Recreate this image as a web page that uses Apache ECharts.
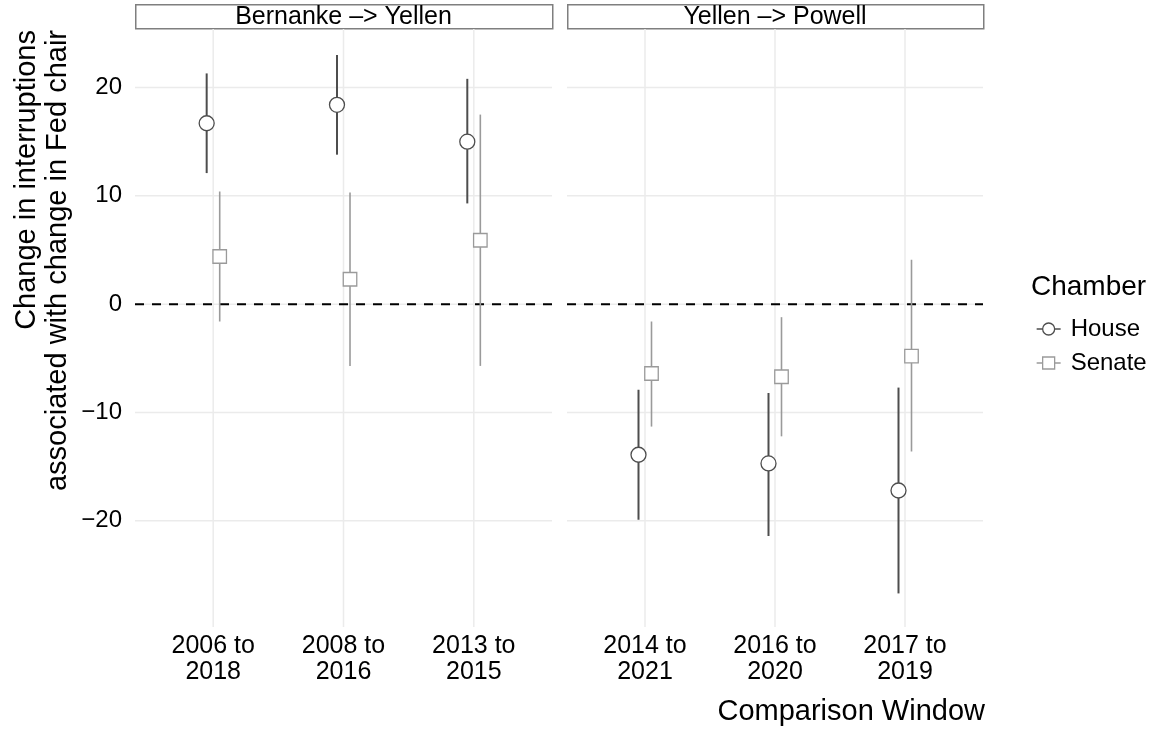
<!DOCTYPE html>
<html><head><meta charset="utf-8">
<script src="https://cdn.jsdelivr.net/npm/echarts@6/dist/echarts.min.js"></script>
<style>html,body{margin:0;padding:0;background:#fff}#c{width:1157px;height:730px}</style>
</head><body><div id="c"></div>
<script>
// ---- data ----
const facets = ['Bernanke –> Yellen', 'Yellen –> Powell'];
const windowsBY = ['2006 to\n2018', '2008 to\n2016', '2013 to\n2015'];
const windowsYP = ['2014 to\n2021', '2016 to\n2020', '2017 to\n2019'];
const yTicks = [-20, -10, 0, 10, 20];
const chambers = ['House', 'Senate'];

const houseEstBY = [16.7, 18.4, 15.0];
const houseLoBY  = [12.1, 13.8, 9.3];
const houseHiBY  = [21.3, 23.0, 20.8];
const senateEstBY = [4.4, 2.3, 5.9];
const senateLoBY  = [-1.6, -5.7, -5.7];
const senateHiBY  = [10.4, 10.3, 17.5];

const houseEstYP = [-13.9, -14.7, -17.2];
const houseLoYP  = [-19.9, -21.4, -26.7];
const houseHiYP  = [-7.9, -8.2, -7.7];
const senateEstYP = [-6.4, -6.7, -4.8];
const senateLoYP  = [-11.3, -12.2, -13.6];
const senateHiYP  = [-1.6, -1.2, 4.1];

// ---- styling ----
const FONT = '"Liberation Sans", Arial, sans-serif';
const HOUSE_COL = '#4d4d4d';
const SENATE_COL = '#9a9a9a';
const GRID_COL = '#ebebeb';
const DODGE = 0.05;
const panels = [
  {cats: windowsBY, house: [houseEstBY, houseLoBY, houseHiBY], senate: [senateEstBY, senateLoBY, senateHiBY]},
  {cats: windowsYP, house: [houseEstYP, houseLoYP, houseHiYP], senate: [senateEstYP, senateLoYP, senateHiYP]}
];
const gridBoxes = [{left: 135, top: 29, width: 417, height: 598}, {left: 567, top: 29, width: 416, height: 598}];

function fmtY(v) { return v < 0 ? '\u2212' + Math.abs(v) : String(v); }

const grids = gridBoxes.map(g => ({left: g.left, top: g.top, width: g.width, height: g.height, containLabel: false}));
const xAxes = panels.map((p, i) => ({
  type: 'value', gridIndex: i, min: 0.4, max: 3.6,
  axisLine: {show: false}, axisTick: {show: false}, splitLine: {show: false},
  axisLabel: {
    customValues: [1, 2, 3],
    formatter: v => (Math.abs(v - Math.round(v)) < 1e-6 && p.cats[Math.round(v) - 1]) ? p.cats[Math.round(v) - 1] : '',
    fontFamily: FONT, fontSize: 25, lineHeight: 26, color: '#000', margin: 6, align: 'center'
  }
}));
const yAxes = panels.map((p, i) => ({
  type: 'value', gridIndex: i, min: -29.8, max: 25.4,
  axisLine: {show: false}, axisTick: {show: false}, splitLine: {show: false},
  axisLabel: {
    show: i === 0, customValues: yTicks,
    formatter: v => yTicks.indexOf(v) >= 0 ? fmtY(v) : '',
    fontFamily: FONT, fontSize: 24, color: '#000', margin: 13, padding: [0, 0, 8, 0]
  }
}));

function hLine(color, width, dash) {
  return function (params, api) {
    const cs = params.coordSys;
    const y = api.coord([1, api.value(0)])[1];
    return {type: 'line', silent: true,
      shape: {x1: cs.x, y1: y, x2: cs.x + cs.width, y2: y},
      style: {stroke: color, lineWidth: width, lineDash: dash || null}};
  };
}
function vLine(params, api) {
  const cs = params.coordSys;
  const x = api.coord([api.value(0), 0])[0];
  return {type: 'line', silent: true,
    shape: {x1: x, y1: cs.y, x2: x, y2: cs.y + cs.height},
    style: {stroke: GRID_COL, lineWidth: 1.5}};
}
function errBar(color, width) {
  return function (params, api) {
    const p1 = api.coord([api.value(0), api.value(1)]);
    const p2 = api.coord([api.value(0), api.value(2)]);
    return {type: 'line', shape: {x1: p1[0], y1: p1[1], x2: p2[0], y2: p2[1]},
      style: {stroke: color, lineWidth: width}};
  };
}

const series = [];
panels.forEach((p, i) => {
  series.push({type: 'custom', xAxisIndex: i, yAxisIndex: i, z: 0, silent: true,
    data: yTicks.map(v => [v]), encode: {y: 0}, renderItem: hLine(GRID_COL, 1.5)});
  series.push({type: 'custom', xAxisIndex: i, yAxisIndex: i, z: 0, silent: true,
    data: p.cats.map((c, k) => [k + 1]), encode: {x: 0}, renderItem: vLine});
  series.push({type: 'custom', xAxisIndex: i, yAxisIndex: i, z: 1, silent: true,
    data: [[0]], encode: {y: 0}, renderItem: hLine('#000', 2, [9, 8])});
  [['House', p.house, -DODGE, HOUSE_COL, 2, 'circle', 15],
   ['Senate', p.senate, DODGE, SENATE_COL, 1.6, 'rect', 13.5]].forEach(([name, arr, off, col, lw, sym, sz]) => {
    const [est, lo, hi] = arr;
    series.push({type: 'custom', name: name, xAxisIndex: i, yAxisIndex: i, z: 2,
      data: est.map((e, k) => [k + 1 + off, lo[k], hi[k]]), encode: {x: 0, y: [1, 2]},
      renderItem: errBar(col, lw)});
    series.push({type: 'scatter', name: name, xAxisIndex: i, yAxisIndex: i, z: 3,
      symbol: sym, symbolSize: sz,
      itemStyle: {color: '#fff', borderColor: col, borderWidth: 1.3, opacity: 1},
      data: est.map((e, k) => [k + 1 + off, e])});
  });
});

const graphics = [];
gridBoxes.forEach((g, i) => {
  graphics.push({type: 'rect', left: g.left, top: 4, silent: true,
    shape: {x: 0, y: 0, width: g.width, height: 24},
    style: {fill: '#fff', stroke: '#7f7f7f', lineWidth: 1.5}});
  graphics.push({type: 'text', x: g.left + g.width / 2, y: 17, silent: true,
    style: {text: facets[i], font: '25px ' + FONT, fill: '#000', align: 'center', verticalAlign: 'middle'}});
});
graphics.push({type: 'text', x: 27, y: 30, rotation: Math.PI / 2, silent: true,
  style: {text: 'Change in interruptions', font: '29px ' + FONT, fill: '#000', align: 'right', verticalAlign: 'middle'}});
graphics.push({type: 'text', x: 58, y: 30, rotation: Math.PI / 2, silent: true,
  style: {text: 'associated with change in Fed chair', font: '29px ' + FONT, fill: '#000', align: 'right', verticalAlign: 'middle'}});
graphics.push({type: 'text', x: 985, y: 712, silent: true,
  style: {text: 'Comparison Window', font: '29px ' + FONT, fill: '#000', align: 'right', verticalAlign: 'middle'}});
graphics.push({type: 'text', x: 1031, y: 287, silent: true,
  style: {text: 'Chamber', font: '28px ' + FONT, fill: '#000', align: 'left', verticalAlign: 'middle'}});

const iconHouse = 'path://M0,6L6,6M18,6L24,6M6,6A6,6,0,1,1,18,6A6,6,0,1,1,6,6Z';
const iconSenate = 'path://M0,6L6,6M18,6L24,6M6,0L18,0L18,12L6,12Z';

const option = {
  animation: false,
  backgroundColor: '#fff',
  textStyle: {fontFamily: FONT},
  grid: grids, xAxis: xAxes, yAxis: yAxes, series: series, graphic: graphics,
  legend: {
    orient: 'vertical', left: 1031, top: 312, itemWidth: 24, itemHeight: 12, itemGap: 10,
    selectedMode: false,
    textStyle: {fontFamily: FONT, fontSize: 24, lineHeight: 24, color: '#000', padding: [0, 0, 0, 5]},
    data: [
      {name: chambers[0], icon: iconHouse, itemStyle: {color: '#fff', borderColor: HOUSE_COL, borderWidth: 1.3}},
      {name: chambers[1], icon: iconSenate, itemStyle: {color: '#fff', borderColor: SENATE_COL, borderWidth: 1.3}}
    ]
  }
};
const chart = echarts.init(document.getElementById('c'), null, {renderer: 'canvas'});
chart.setOption(option);
</script></body></html>
